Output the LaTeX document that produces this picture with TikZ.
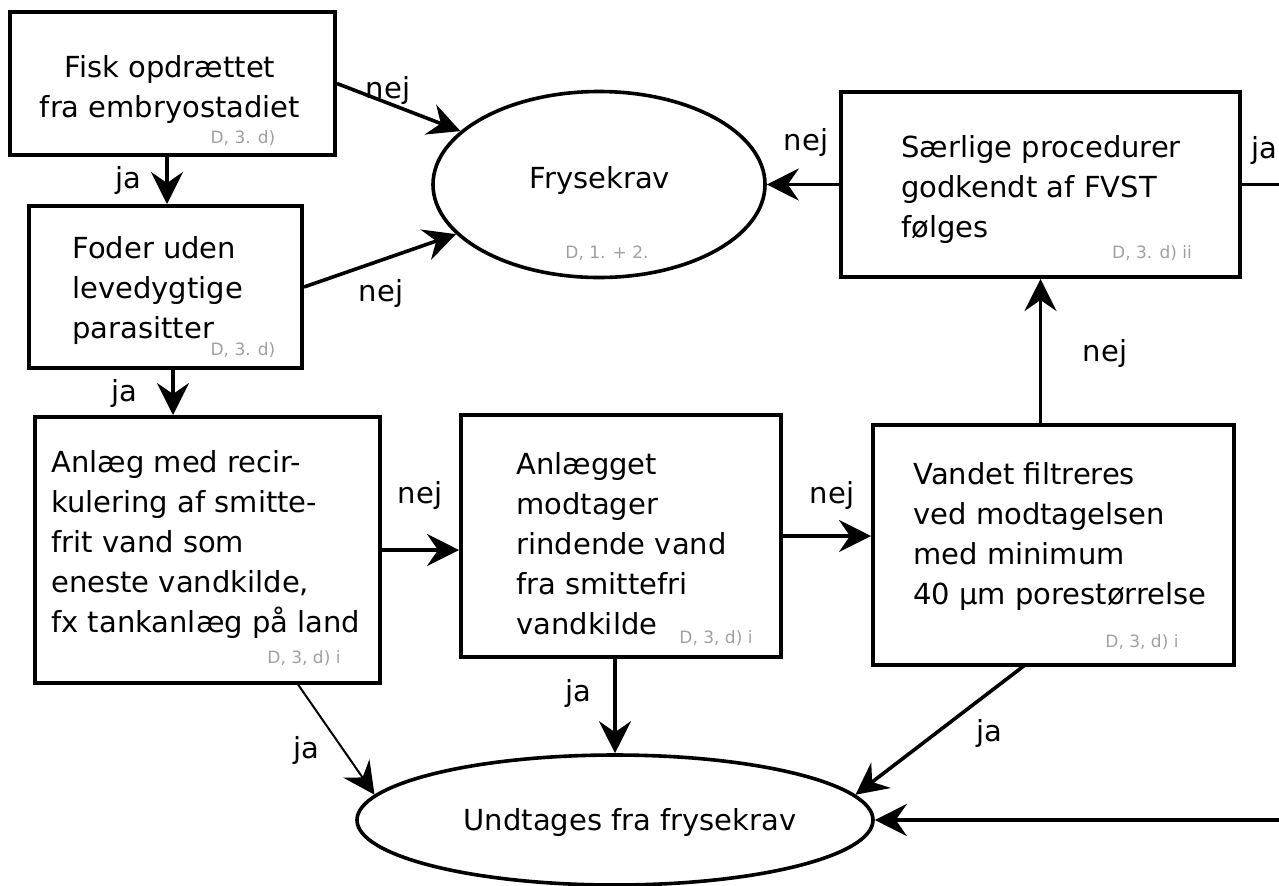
\documentclass[tikz,border=0pt]{standalone}
\usepackage{fontspec}
\setmainfont{DejaVu Sans}
\usetikzlibrary{arrows.meta,shapes.geometric}
\definecolor{refgray}{HTML}{A0A0A0}
\begin{document}
\begin{tikzpicture}[x=0.5pt,y=-0.5pt,
  boxnode/.style={draw, line width=2pt, rectangle, inner sep=0pt},
  ellnode/.style={draw, line width=1.8pt, ellipse, inner sep=0pt},
  txt/.style={inner sep=0pt, font=\fontsize{14.5}{20}\selectfont, align=left},
  ctxt/.style={inner sep=0pt, font=\fontsize{14.5}{20}\selectfont, align=center},
  reftxt/.style={inner sep=0pt, font=\fontsize{8.5}{10}\selectfont, text=refgray},
  lbl/.style={inner sep=0pt, font=\fontsize{14.5}{20}\selectfont},
  arr/.style={line width=1.8pt, -{Stealth[length=16pt, width=16pt, inset=5.5pt]}},
  thinarr/.style={line width=1pt, -{Stealth[length=16pt, width=16pt, inset=5.5pt]}}]
\useasboundingbox (0,0) rectangle (1279,885);
\clip (0,0) rectangle (1279,885);

% boxes
\node[boxnode, minimum width=162.5pt, minimum height=71.5pt] (b1) at (172.5,83.5) {};
\node[boxnode, minimum width=136.5pt, minimum height=81pt] (b2) at (165.5,287) {};
\node[boxnode, minimum width=172.5pt, minimum height=133pt] (b3) at (207.5,550) {};
\node[boxnode, minimum width=160pt, minimum height=121pt] (b4) at (621,536) {};
\node[boxnode, minimum width=180.5pt, minimum height=120pt] (b5) at (1053.5,545) {};
\node[boxnode, minimum width=199.5pt, minimum height=92.5pt] (sp) at (1040.5,184.5) {};
\node[ellnode, minimum width=166pt, minimum height=93pt] (frys) at (599,184.5) {};
\node[ellnode, minimum width=258pt, minimum height=65pt] (und) at (615,820) {};

% texts
\node[ctxt] (t1) at (170,89) {Fisk opdrættet\\fra embryostadiet};
\node[reftxt] (r1) at (243,138) {D, 3. d)};
\node[txt, anchor=west] (t2) at (72,290) {Foder uden\\levedygtige\\parasitter};
\node[reftxt] (r2) at (243,350) {D, 3. d)};
\node[txt, anchor=west] (t3) at (51,544) {Anlæg med recir-\\kulering af smitte-\\frit vand som\\eneste vandkilde,\\fx tankanlæg på land};
\node[reftxt] (r3) at (304,658) {D, 3, d) i};
\node[txt, anchor=west] (t4) at (516,544) {Anlægget\\modtager\\rindende vand\\fra smittefri\\vandkilde};
\node[reftxt] (r4) at (716,638) {D, 3, d) i};
\node[txt, anchor=west] (t5) at (913,536) {Vandet filtreres\\ved modtagelsen\\med minimum\\40 µm porestørrelse};
\node[reftxt] (r5) at (1142,642) {D, 3, d) i};
\node[txt, anchor=west] (t6) at (901,189) {Særlige procedurer\\godkendt af FVST\\følges};
\node[reftxt] (r6) at (1152,253) {D, 3. d) ii};
\node[lbl] (tf) at (600,180) {Frysekrav};
\node[reftxt] (rf) at (607,253) {D, 1. + 2.};
\node[lbl] (tu) at (630,822) {Undtages fra frysekrav};

% free ends
\coordinate (rout) at (1290,184.5);
\coordinate (rin) at (1290,820);
\coordinate (b3s) at (297,683);
\coordinate (b5s) at (1025,665);

% connectors
\draw[arr] (b1.south -| 167,0) -- (b2.north -| 167,0);
\draw[arr] (b2.south -| 173,0) -- (b3.north -| 173,0);
\draw[arr] (b1.east) -- (frys);
\draw[arr] (b2.east) -- (frys);
\draw[arr] (sp.west) -- (frys);
\draw[line width=1.8pt] (sp.east) -- (rout);
\draw[arr] (b3.east) -- (b3.east -| b4.west);
\draw[arr] (b4.east) -- (b4.east -| b5.west);
\draw[arr] (sp.south |- b5.north) -- (sp.south);
\draw[thinarr] (b3s) -- (und.174.8);
\draw[arr] (b4.south -| und.north) -- (und.north);
\draw[arr] (b5s) -- (und.6);
\draw[arr] (rin) -- (und.east);

% labels
\node[lbl] (l1) at (388,90) {nej};
\node[lbl] (l2) at (381,293) {nej};
\node[lbl] (l3) at (128,180) {ja};
\node[lbl] (l4) at (124,393) {ja};
\node[lbl] (l5) at (806,142) {nej};
\node[lbl] (l6) at (1264,150) {ja};
\node[lbl] (l7) at (1105,353) {nej};
\node[lbl] (l8) at (420,495) {nej};
\node[lbl] (l9) at (832,495) {nej};
\node[lbl] (l10) at (578,693) {ja};
\node[lbl] (l11) at (306,750) {ja};
\node[lbl] (l12) at (989,733) {ja};
\end{tikzpicture}
\end{document}
